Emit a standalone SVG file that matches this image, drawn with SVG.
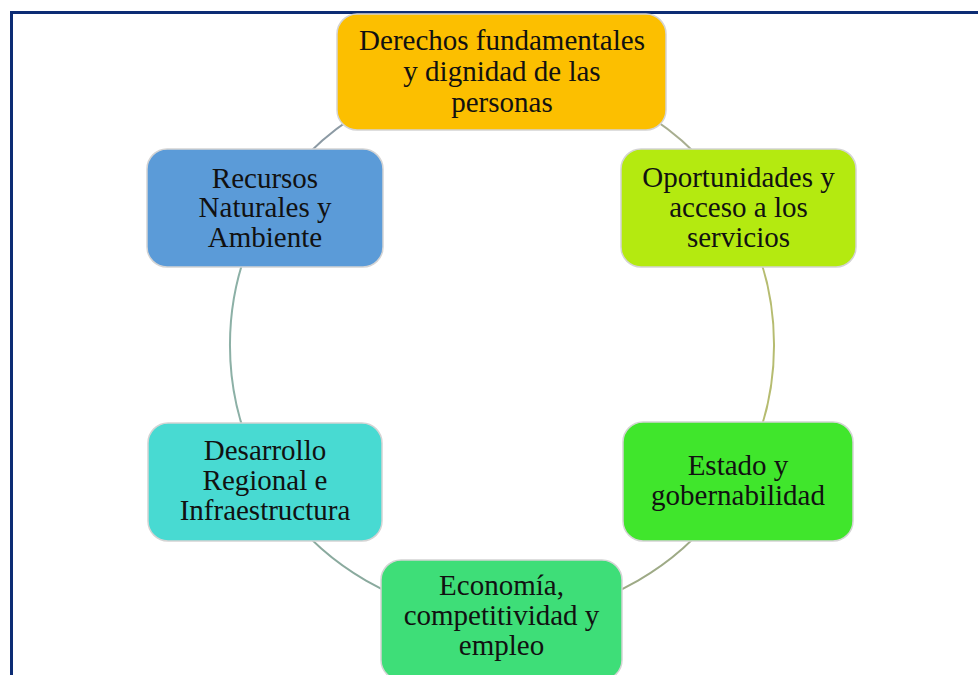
<svg xmlns="http://www.w3.org/2000/svg" width="978" height="675" viewBox="0 0 978 675">
<style>
.box{stroke:#d4d4d4;stroke-width:1.5}
.t{font-family:"Liberation Serif","Times New Roman",serif;font-size:29px;fill:#111;text-anchor:middle}
.arc{fill:none;stroke-width:2}
</style>
<rect x="0" y="0" width="978" height="675" fill="#ffffff"/>
<rect x="11.5" y="12.5" width="1000" height="1000" fill="none" stroke="#0c2c74" stroke-width="3"/>
<g id="connectors">
<path class="arc" stroke="#a8ae90" d="M502,73 A272,272 0 0 1 737.6,209"/>
<path class="arc" stroke="#b6bc70" d="M737.6,209 A272,272 0 0 1 737.6,481"/>
<path class="arc" stroke="#9eaa86" d="M737.6,481 A272,272 0 0 1 502,617"/>
<path class="arc" stroke="#8aaa9e" d="M502,617 A272,272 0 0 1 266.4,481"/>
<path class="arc" stroke="#8cb0a6" d="M266.4,481 A272,272 0 0 1 266.4,209"/>
<path class="arc" stroke="#8c9aa4" d="M266.4,209 A272,272 0 0 1 502,73"/>
</g>
<g id="node-derechos">
<rect class="box" x="337" y="14" width="329" height="116" rx="20" fill="#fcbf00"/>
<text class="t" x="502" y="50">Derechos fundamentales</text>
<text class="t" x="502" y="81">y dignidad de las</text>
<text class="t" x="502" y="112">personas</text>
</g>
<g id="node-oportunidades">
<rect class="box" x="621" y="149" width="235" height="118" rx="20" fill="#b4ea10"/>
<text class="t" x="738.5" y="187">Oportunidades y</text>
<text class="t" x="738.5" y="217">acceso a los</text>
<text class="t" x="738.5" y="247">servicios</text>
</g>
<g id="node-estado">
<rect class="box" x="623" y="422" width="230" height="119" rx="20" fill="#40e62c"/>
<text class="t" x="738" y="475">Estado y</text>
<text class="t" x="738" y="505">gobernabilidad</text>
</g>
<g id="node-economia">
<rect class="box" x="381" y="560" width="241" height="120" rx="20" fill="#3ede78"/>
<text class="t" x="501.5" y="595">Economía,</text>
<text class="t" x="501.5" y="625">competitividad y</text>
<text class="t" x="501.5" y="655">empleo</text>
</g>
<g id="node-desarrollo">
<rect class="box" x="148" y="423" width="234" height="118" rx="20" fill="#48dad2"/>
<text class="t" x="265" y="460">Desarrollo</text>
<text class="t" x="265" y="490">Regional e</text>
<text class="t" x="265" y="520">Infraestructura</text>
</g>
<g id="node-recursos">
<rect class="box" x="147" y="149" width="236" height="118" rx="20" fill="#5b9bd8"/>
<text class="t" x="265" y="188">Recursos</text>
<text class="t" x="265" y="217">Naturales y</text>
<text class="t" x="265" y="247">Ambiente</text>
</g>
</svg>
